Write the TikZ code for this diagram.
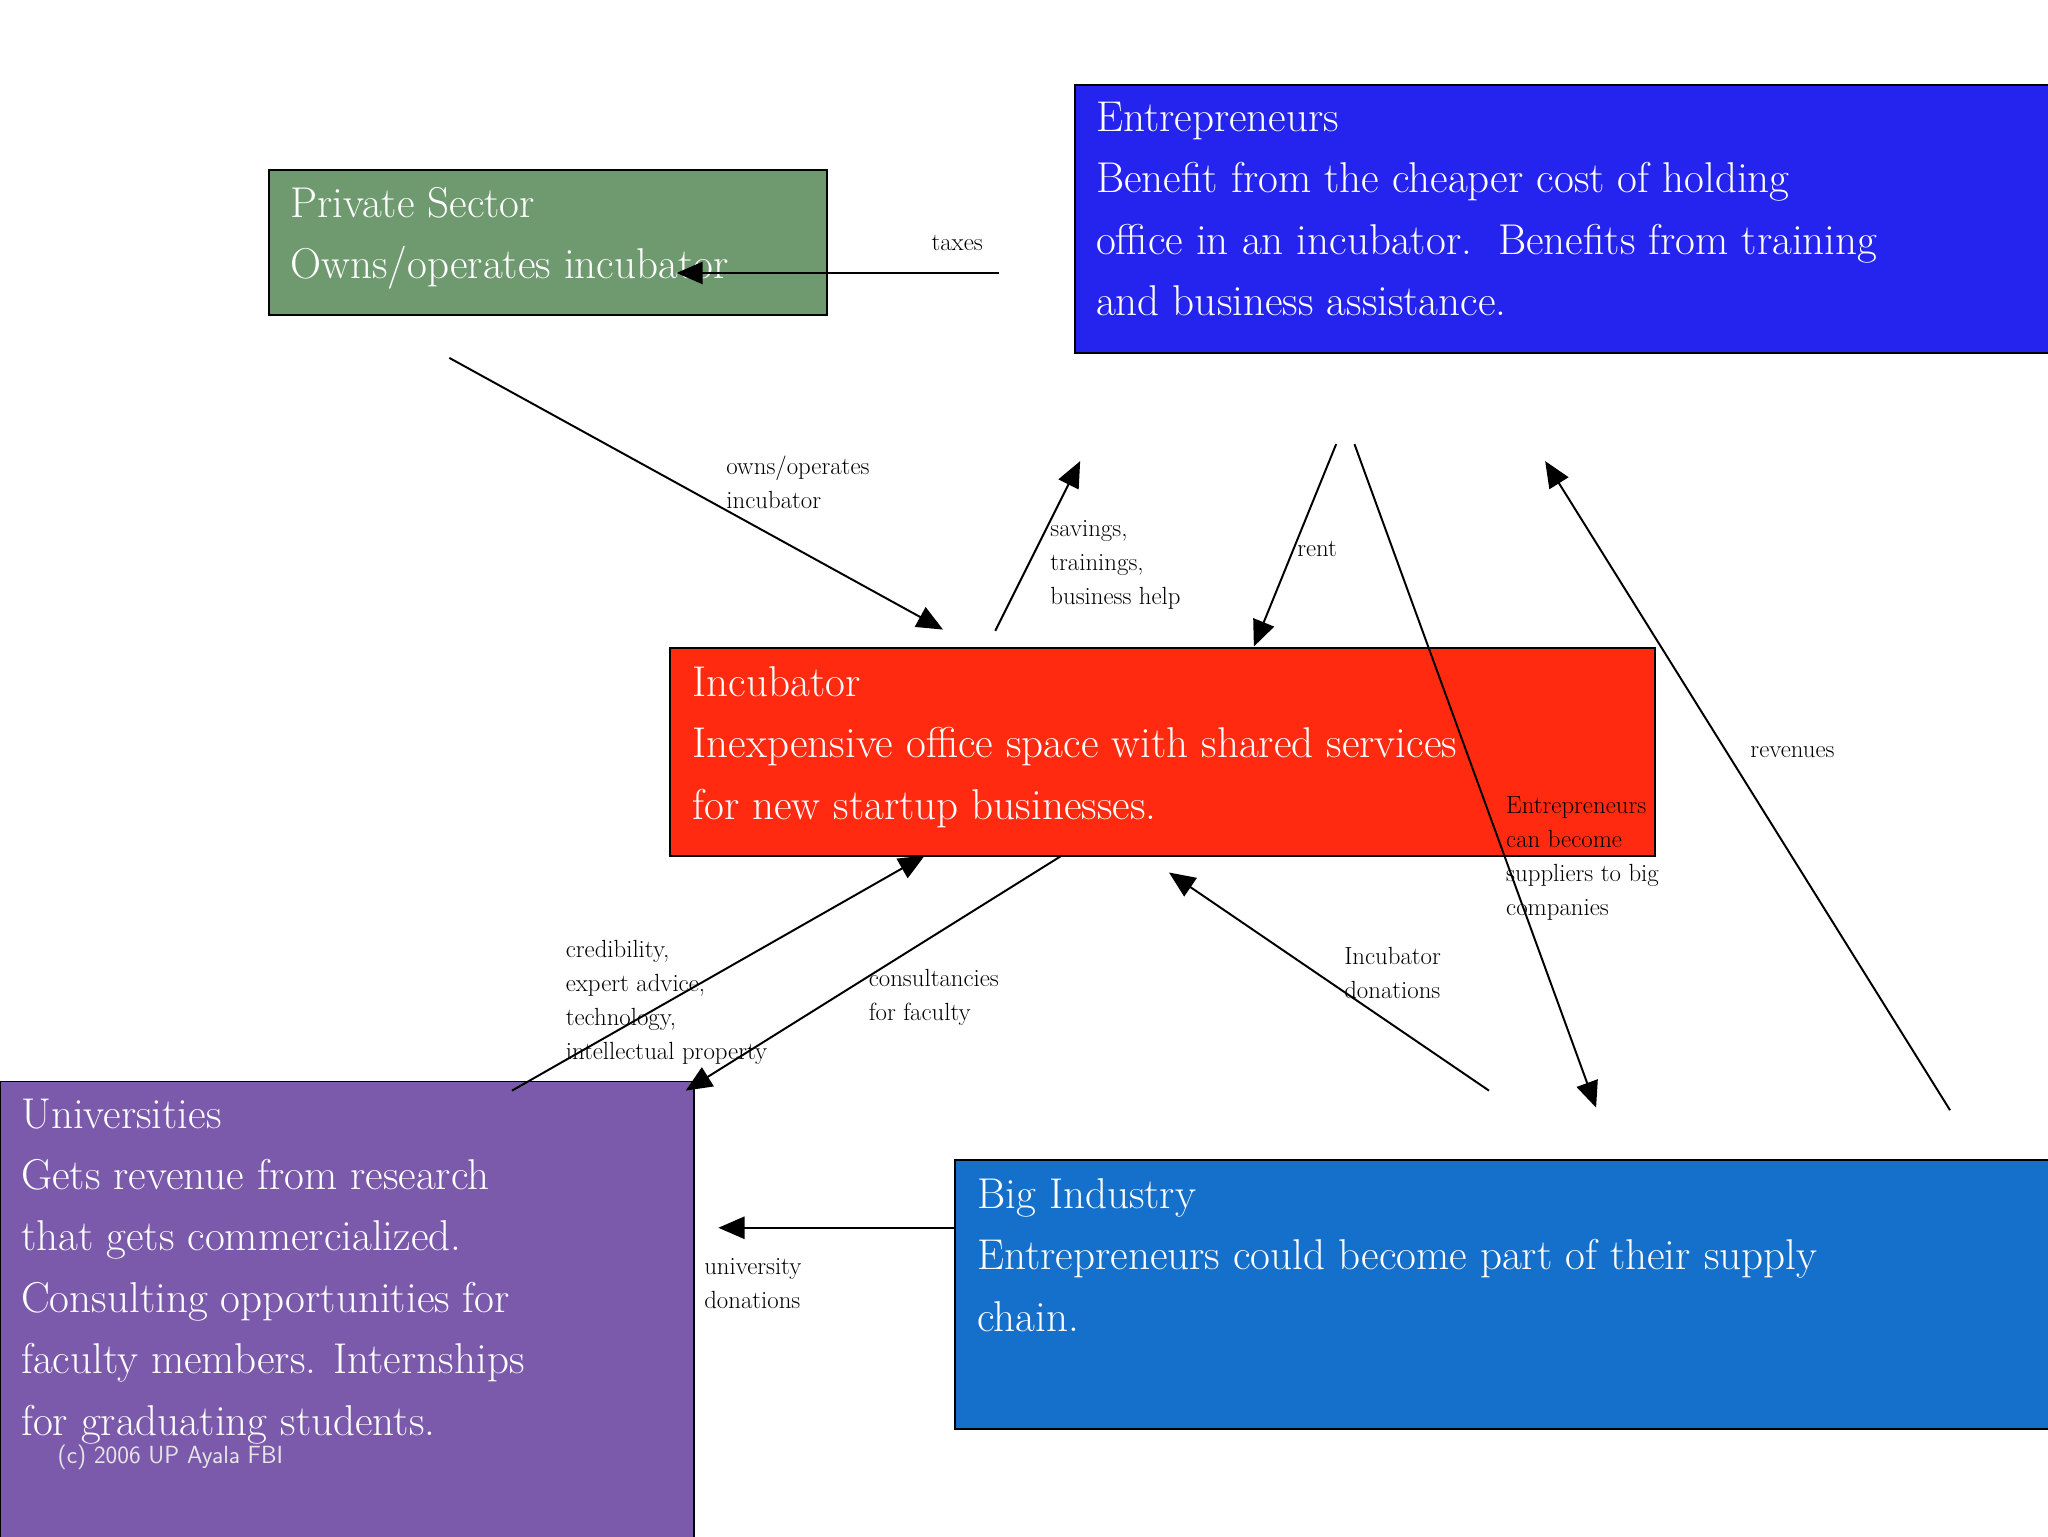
\documentclass[tikz,border=0pt]{standalone}
\usetikzlibrary{arrows.meta}
\begin{document}
\begin{tikzpicture}[x=1pt,y=-1pt,
  box/.style={draw=black,line width=1.5pt},
  big/.style={anchor=north west,inner sep=0pt,align=left,text=white,font=\fontsize{33}{47}\selectfont},
  lab/.style={anchor=north west,inner sep=0pt,align=left,font=\fontsize{19}{26}\selectfont},
  arr/.style={line width=1.5pt,-{Triangle[length=20pt,width=17pt]}}]
\useasboundingbox (0,0) rectangle (1568,1176);
\definecolor{cg}{HTML}{6F9A6F}\definecolor{cb}{HTML}{2424EE}
\definecolor{cr}{HTML}{FF2A10}\definecolor{cp}{HTML}{7B5AAB}\definecolor{ci}{HTML}{1570CC}
\fill[cg] (206,130) rectangle (633,241); \draw[box] (206,130) rectangle (633,241);
\fill[cb] (823,65) rectangle (1572,270); \draw[box] (823,65) rectangle (1572,270);
\fill[cr] (513,496) rectangle (1267,655); \draw[box] (513,496) rectangle (1267,655);
\fill[cp] (0,828) rectangle (531,1180); \draw[box] (0,828) rectangle (531,1180);
\fill[ci] (731,888) rectangle (1572,1094); \draw[box] (731,888) rectangle (1572,1094);
\node[big] (tps) at (222,143) {Private Sector\\Owns/operates incubator};
\node[big] (ten) at (839,78) {Entrepreneurs\\Benefit from the cheaper cost of holding\\office in an incubator.\ \ Benefits from training\\and business assistance.};
\node[big] (tin) at (530,510) {Incubator\\Inexpensive office space with shared services\\for new startup businesses.};
\node[big] (tun) at (16,841) {Universities\\Gets revenue from research\\that gets commercialized.\\Consulting opportunities for\\faculty members. Internships\\for graduating students.};
\node[big] (tbi) at (748,902) {Big Industry\\Entrepreneurs could become part of their supply\\chain.};
\node[anchor=west,inner sep=0pt,text=white!90!black,font=\sffamily\fontsize{19}{22}\selectfont] (cpy) at (44,1116) {(c) 2006 UP Ayala FBI};
\coordinate (a1) at (765,209); \coordinate (b1) at (518,209);
\coordinate (a2) at (344,274); \coordinate (b2) at (722,482);
\coordinate (a3) at (762,483); \coordinate (b3) at (827,353);
\coordinate (a4) at (1023,340); \coordinate (b4) at (960,495);
\coordinate (a5) at (1037,340); \coordinate (b5) at (1222,848);
\coordinate (a6) at (1493,850); \coordinate (b6) at (1183,353);
\coordinate (a7) at (1140,835); \coordinate (b7) at (895,668);
\coordinate (a8) at (392,835); \coordinate (b8) at (708,655);
\coordinate (a9) at (813,655); \coordinate (b9) at (525,835);
\coordinate (a10) at (731,940); \coordinate (b10) at (550,940);
\foreach \i in {1,...,10} \draw[arr] (a\i) -- (b\i);
\node[lab] (l1) at (713,180) {taxes};
\node[lab] (l2) at (556,349) {owns/operates\\incubator};
\node[lab] (l3) at (804,398) {savings,\\trainings,\\business help};
\node[lab] (l4) at (993,414) {rent};
\node[lab] (l5) at (1153,610) {Entrepreneurs\\can become\\suppliers to big\\companies};
\node[lab] (l6) at (1340,571) {revenues};
\node[lab] (l7) at (1029,725) {Incubator\\donations};
\node[lab] (l8) at (433,720) {credibility,\\expert advice,\\technology,\\intellectual property};
\node[lab] (l9) at (665,742) {consultancies\\for faculty};
\node[lab] (l10) at (539,963) {university\\donations};
\end{tikzpicture}
\end{document}
